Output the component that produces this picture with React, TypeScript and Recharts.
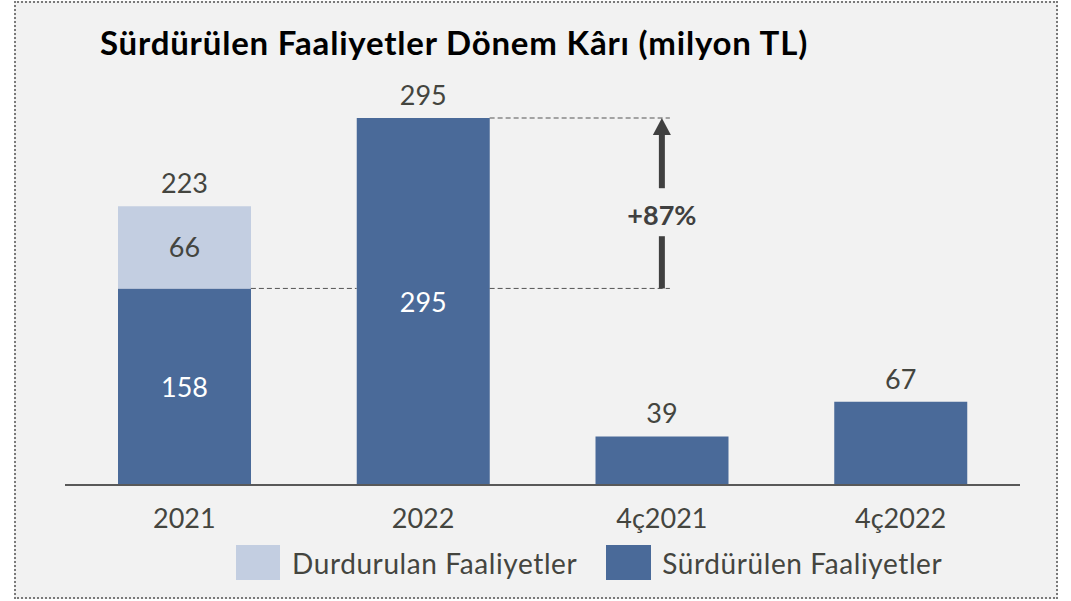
import React from 'react';
import { BarChart, Bar, XAxis, YAxis, LabelList, ReferenceLine } from 'recharts';

const categories = ['2021', '2022', '4ç2021', '4ç2022'];
const continuing = [158, 295, 39, 67];
const discontinued = [66, 0, 0, 0];
const totals = [223, 295, 39, 67];
const insideShown = [true, true, false, false];
const growthLabel = '+87%';
const titleText = 'Sürdürülen Faaliyetler Dönem Kârı (milyon TL)';
const seriesNames = { discontinued: 'Durdurulan Faaliyetler', continuing: 'Sürdürülen Faaliyetler' };

const DARK = '#4a6a99';
const LIGHT = '#c3cee1';
const TEXT = '#44453f';
const FONT = 'Lato, "Open Sans", sans-serif';
const BAR_SIZE = 133;

const data = categories.map((name, i) => ({
  name,
  continuing: continuing[i],
  discontinued: discontinued[i],
  total: totals[i],
}));

const Tick = (props: any) => {
  const { x, y, payload } = props;
  return (
    <text x={x} y={y + 43} textAnchor="middle" fill={TEXT} fontSize={27} fontFamily={FONT}>
      {payload.value}
    </text>
  );
};

// dashed guide between bar centres, drawn only in the gaps between bars
const DashedTo = (props: any) => {
  const { x1, x2, y1, steps } = props;
  const step = (x2 - x1) / steps;
  const pieces = [];
  for (let i = 0; i < steps; i++) {
    const a = x1 + i * step + BAR_SIZE / 2;
    const b = i === steps - 1 ? x2 + 8 : x1 + (i + 1) * step - BAR_SIZE / 2;
    pieces.push(<line key={i} x1={a} x2={b} y1={y1} y2={y1} stroke="#555" strokeWidth={1} strokeDasharray="5 3" />);
  }
  return <g>{pieces}</g>;
};

const GrowthArrow = (props: any) => {
  const { x1, y1, y2 } = props;
  const top = Math.min(y1, y2);
  const bottom = Math.max(y1, y2);
  const mid = (top + bottom) / 2;
  return (
    <g>
      <line x1={x1} x2={x1} y1={bottom} y2={mid + 33} stroke="#404040" strokeWidth={6} />
      <line x1={x1} x2={x1} y1={mid - 15} y2={top + 16} stroke="#404040" strokeWidth={6} />
      <polygon points={`${x1 - 9},${top + 17} ${x1 + 9},${top + 17} ${x1},${top}`} fill="#404040" />
      <text x={x1} y={mid + 22} textAnchor="middle" fontSize={27} fontWeight="bold" fill="#404040" fontFamily={FONT}>
        {growthLabel}
      </text>
    </g>
  );
};

// label inside the dark segment (first two bars) and the total above the stack
const DarkLabels = (props: any) => {
  const { x, y, width, height, value, index } = props;
  const perUnit = height / continuing[index];
  const stackTop = y - discontinued[index] * perUnit;
  return (
    <g>
      {insideShown[index] && (
        <text x={x + width / 2} y={y + height / 2 + 10} textAnchor="middle" fill="#fff" fontSize={27} fontFamily={FONT}>
          {value}
        </text>
      )}
      <text x={x + width / 2} y={stackTop - 13} textAnchor="middle" fill={TEXT} fontSize={27} fontFamily={FONT}>
        {totals[index]}
      </text>
    </g>
  );
};

const LightLabel = (props: any) => {
  const { x, y, width, height, value } = props;
  if (!value) return null;
  return (
    <text x={x + width / 2} y={y + height / 2 + 10} textAnchor="middle" fill={TEXT} fontSize={27} fontFamily={FONT}>
      {value}
    </text>
  );
};

export default function App() {
  return (
    <div style={{ position: 'absolute', left: 0, top: 0, width: 1071, height: 601, background: '#fff', fontFamily: FONT }}>
      <div
        style={{
          position: 'absolute',
          left: 14,
          top: 1,
          width: 1040,
          height: 594,
          background: '#f2f2f2',
          border: '2px dotted #7a7a7a',
        }}
      />
      <div
        style={{
          position: 'absolute',
          left: 100,
          top: 22,
          fontSize: 33,
          letterSpacing: 0.8,
          fontWeight: 'bold',
          color: '#000',
          whiteSpace: 'nowrap',
        }}
      >
        {titleText}
      </div>
      <div style={{ position: 'absolute', left: 0, top: 0 }}>
        <BarChart width={1071} height={601} data={data} margin={{ top: 118, right: 51, bottom: 56, left: 65 }}>
          <YAxis hide domain={[0, continuing[1]]} />
          <XAxis
            dataKey="name"
            height={60}
            tickLine={false}
            tickSize={0}
            tickMargin={0}
            axisLine={{ stroke: '#595959', strokeWidth: 2 }}
            tick={<Tick />}
          />
          <Bar dataKey="continuing" stackId="a" fill={DARK} barSize={BAR_SIZE} isAnimationActive={false}>
            <LabelList dataKey="continuing" content={<DarkLabels />} />
          </Bar>
          <Bar dataKey="discontinued" stackId="a" fill={LIGHT} barSize={BAR_SIZE} isAnimationActive={false}>
            <LabelList dataKey="discontinued" content={<LightLabel />} />
          </Bar>
          <ReferenceLine
            segment={[{ x: categories[1], y: continuing[1] }, { x: categories[2], y: continuing[1] }]}
            shape={<DashedTo steps={1} />}
          />
          <ReferenceLine
            segment={[{ x: categories[0], y: continuing[0] }, { x: categories[2], y: continuing[0] }]}
            shape={<DashedTo steps={2} />}
          />
          <ReferenceLine
            segment={[{ x: categories[2], y: continuing[0] }, { x: categories[2], y: continuing[1] }]}
            shape={<GrowthArrow />}
          />
        </BarChart>
      </div>
      <div
        style={{
          position: 'absolute',
          left: 236,
          top: 545,
          display: 'flex',
          alignItems: 'center',
          fontSize: 28,
          letterSpacing: 0.6,
          color: TEXT,
          whiteSpace: 'nowrap',
        }}
      >
        <span style={{ width: 44, height: 35, background: LIGHT, display: 'inline-block', marginRight: 12 }} />
        <span style={{ marginRight: 29 }}>{seriesNames.discontinued}</span>
        <span style={{ width: 45, height: 35, background: DARK, display: 'inline-block', marginRight: 11 }} />
        <span>{seriesNames.continuing}</span>
      </div>
    </div>
  );
}
